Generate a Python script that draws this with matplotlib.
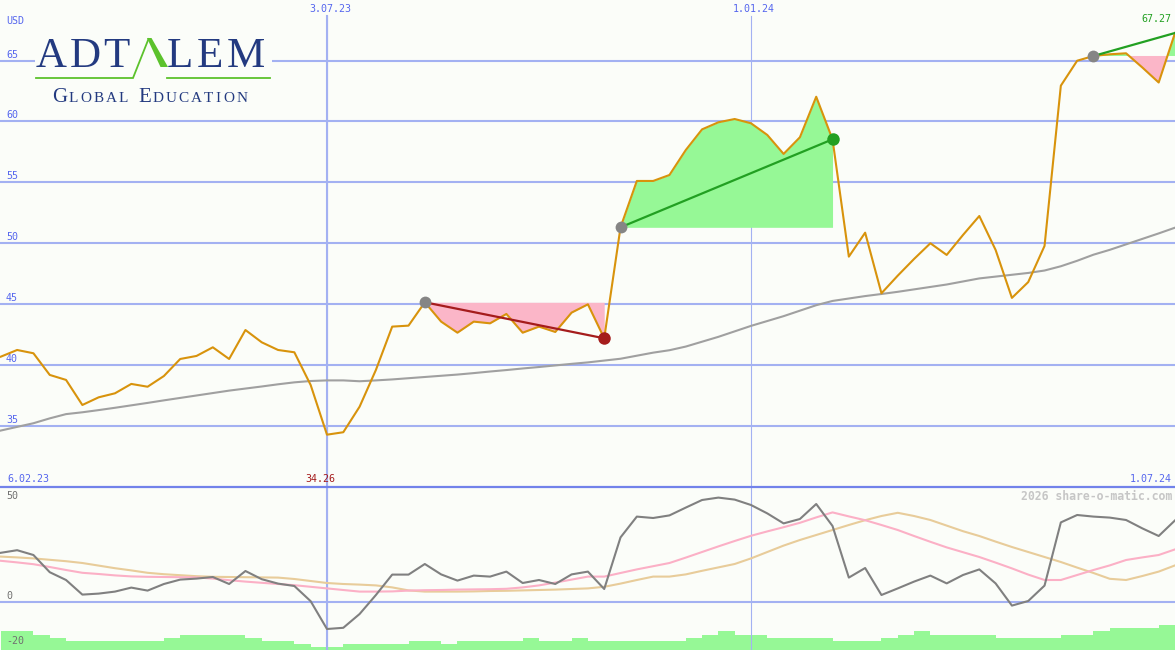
import matplotlib
matplotlib.use("Agg")
import matplotlib.pyplot as plt
import numpy as np

# weekly closes in USD (first point just after 6.02.23, last 1.07.24)
price = [40.67, 41.22, 40.95, 39.17, 38.76, 36.70, 37.33, 37.66, 38.43, 38.20,
         39.08, 40.48, 40.73, 41.44, 40.48, 42.86, 41.85, 41.22, 41.03, 38.34,
         34.26, 34.46, 36.56, 39.58, 43.14, 43.22, 45.14, 43.55, 42.64, 43.55,
         43.41, 44.18, 42.64, 43.14, 42.70, 44.29, 44.97, 42.18, 51.30, 55.11,
         55.11, 55.60, 57.65, 59.35, 59.93, 60.20, 59.85, 58.89, 57.33, 58.70,
         62.03, 58.53, 48.89, 50.86, 45.88, 47.33, 48.70, 49.99, 49.03, 50.67,
         52.23, 49.44, 45.50, 46.80, 49.77, 62.94, 64.99, 65.38, 65.52, 65.60,
         64.43, 63.20, 67.27]

# long moving average (grey)
ma_long = [34.6, 34.9, 35.2, 35.6, 35.95, 36.1, 36.28, 36.47, 36.67, 36.87,
           37.08, 37.28, 37.48, 37.68, 37.88, 38.05, 38.22, 38.4, 38.56, 38.67,
           38.72, 38.72, 38.65, 38.72, 38.8, 38.9, 39.0, 39.1, 39.2, 39.32,
           39.45, 39.57, 39.7, 39.82, 39.95, 40.08, 40.2, 40.35, 40.5, 40.75,
           41.0, 41.2, 41.5, 41.9, 42.3, 42.75, 43.2, 43.6, 44.0, 44.45,
           44.9, 45.25, 45.45, 45.65, 45.82, 46.0, 46.2, 46.4, 46.6, 46.85,
           47.1, 47.25, 47.4, 47.55, 47.75, 48.1, 48.55, 49.05, 49.45, 49.9,
           50.35, 50.8, 51.27]

# lower panel: oscillator and its two averages
osc = [24.6, 25.9, 23.5, 14.9, 11.0, 3.7, 4.2, 5.2, 7.2, 5.7,
       9.0, 11.2, 11.7, 12.5, 9.0, 15.5, 11.4, 9.2, 8.0, 0.4,
       -13.5, -12.9, -6.0, 3.5, 13.7, 13.7, 19.0, 13.8, 10.7, 13.2,
       12.7, 15.2, 9.5, 11.0, 9.0, 13.8, 15.2, 6.5, 32.3, 42.7,
       42.0, 43.3, 47.2, 51.0, 52.2, 51.2, 48.5, 44.3, 39.3, 41.5,
       49.0, 38.0, 12.2, 17.0, 3.5, 6.8, 10.2, 13.2, 9.3, 13.5,
       16.3, 9.3, -1.8, 0.5, 8.2, 39.8, 43.5, 42.7, 42.2, 41.0,
       36.8, 33.0, 40.8]
osc_fast = [20.6, 19.8, 18.9, 17.5, 16.0, 14.6, 14.0, 13.3, 12.8, 12.6,
            12.5, 12.4, 12.3, 11.7, 10.9, 10.2, 9.6, 9.0, 8.4, 7.6,
            6.8, 6.0, 5.2, 5.2, 5.3, 5.7, 5.9, 6.0, 6.2, 6.3,
            6.4, 6.6, 7.3, 8.3, 9.7, 11.2, 12.7, 12.7, 14.5, 16.3,
            17.9, 19.5, 22.2, 25.0, 27.8, 30.5, 33.1, 35.3, 37.4, 39.6,
            42.3, 44.8, 42.8, 40.9, 38.5, 36.0, 33.0, 30.1, 27.3, 24.9,
            22.5, 19.7, 16.8, 13.7, 11.0, 11.0, 13.5, 16.0, 18.3, 21.0,
            22.3, 23.5, 26.3]
osc_slow = [22.7, 22.3, 21.8, 21.1, 20.4, 19.5, 18.2, 16.9, 15.8, 14.6,
            13.9, 13.4, 12.9, 12.6, 12.5, 12.4, 12.3, 12.2, 11.5, 10.5,
            9.5, 9.0, 8.7, 8.3, 7.3, 5.8, 5.2, 5.2, 5.2, 5.3,
            5.5, 5.6, 5.8, 6.0, 6.2, 6.5, 6.8, 7.6, 9.2, 11.0,
            12.7, 12.7, 13.8, 15.6, 17.3, 19.0, 21.8, 25.0, 28.2, 31.0,
            33.5, 36.0, 38.5, 40.9, 43.0, 44.6, 43.0, 41.0, 38.2, 35.4,
            33.0, 30.2, 27.5, 25.0, 22.5, 20.0, 17.2, 14.5, 11.6, 11.0,
            13.0, 15.2, 18.3]
# volume, relative levels
volume = [6, 6, 5, 4, 3, 3, 3, 3, 3, 3,
          4, 5, 5, 5, 5, 4, 3, 3, 2, 1,
          1, 2, 2, 2, 2, 3, 3, 2, 3, 3,
          3, 3, 4, 3, 3, 4, 3, 3, 3, 3,
          3, 3, 4, 5, 6, 5, 5, 4, 4, 4,
          4, 3, 3, 3, 4, 5, 6, 5, 5, 5,
          5, 4, 4, 4, 4, 5, 5, 6, 7, 7,
          7, 8, 8]

price_ticks = [35, 40, 45, 50, 55, 60, 65]
osc_ticks = [50, 0, -20]
date_marks = [(20, "3.07.23"), (46, "1.01.24")]
first_date, last_date = "6.02.23", "1.07.24"
# signal windows (start index, end index)
windows = [(26, 37), (38, 51), (67, 72)]

BG = "#fbfdf9"
GRID = "#a3b1f2"
SEP = "#7282ea"
LBL = "#5566ee"
ORANGE = "#d8930c"
GREY = "#a0a0a0"
RED = "#a51c1c"
GREEN = "#22a022"
FILL_G = "#96f896"
FILL_R = "#fbb6c8"
MONO = "DejaVu Sans Mono"

n = len(price)
idx = np.arange(n)
p = np.array(price)

fig = plt.figure(figsize=(11.75, 6.5), dpi=100, facecolor=BG)
ax = fig.add_axes([0, 163 / 650, 1, 487 / 650])
ax2 = fig.add_axes([0, 0, 1, 163 / 650])
ax.set_zorder(2)
ax2.set_zorder(1)
for a in (ax, ax2):
    a.set_facecolor(BG)
    a.set_xlim(-0.05, 72.0)
    a.set_xticks([])
    a.set_yticks([])
    for s in a.spines.values():
        s.set_visible(False)
ax.set_ylim(29.96, 69.98)
ax2.set_ylim(-24, 57.5)
ax.spines["bottom"].set_visible(True)
ax.spines["bottom"].set_color(SEP)
ax.spines["bottom"].set_linewidth(1.6)

# grid
for v in price_ticks:
    ax.axhline(v, color=GRID, lw=1.5, zorder=1)
    ax.annotate(str(v), xy=(0, v), xycoords=("axes fraction", "data"),
                xytext=(4.3, 4.3), textcoords="offset points",
                ha="left", va="center", fontsize=7.2, family=MONO, color=LBL)
ax.annotate("USD", xy=(0, 1), xycoords="axes fraction", xytext=(4.3, -15),
            textcoords="offset points", ha="left", va="center",
            fontsize=7.2, family=MONO, color=LBL)
ax2.axhline(0, color=GRID, lw=1.5, zorder=1)
for v, off in zip(osc_ticks, [4.3, 4.3, 0.5]):
    ax2.annotate(str(v), xy=(0, v), xycoords=("axes fraction", "data"),
                 xytext=(4.3, off), textcoords="offset points",
                 ha="left", va="center", fontsize=7.2, family=MONO, color="#707070")

top_frac = 1 - 16 / 487
for i, lab in date_marks:
    ax.axvline(i, ymax=top_frac, color=GRID, lw=0.8, zorder=1)
    ax2.axvline(i, color=GRID, lw=0.8, zorder=1)
    ax.annotate(lab, xy=(i, 1), xycoords=("data", "axes fraction"),
                xytext=(2.2, -6.5), textcoords="offset points",
                ha="center", va="center", fontsize=7.2, family=MONO, color=LBL)

low_i = int(np.argmin(p))
ax.axvline(low_i, ymax=top_frac, color=GRID, lw=1.5, zorder=1)
ax2.axvline(low_i, color=GRID, lw=1.5, zorder=1)
ax.annotate(f"{p[low_i]:.2f}", xy=(low_i, 0), xycoords=("data", "axes fraction"),
            xytext=(-5, 5.8), textcoords="offset points",
            ha="center", va="center", fontsize=7.2, family=MONO, color=RED)
ax.annotate(first_date, xy=(0, 0), xycoords="axes fraction", xytext=(5, 5.8),
            textcoords="offset points", ha="left", va="center",
            fontsize=7.2, family=MONO, color=LBL)
ax.annotate(last_date, xy=(1, 0), xycoords="axes fraction", xytext=(-2.2, 5.8),
            textcoords="offset points", ha="right", va="center",
            fontsize=7.2, family=MONO, color=LBL)

# signal fills
for s, e in windows:
    xs = idx[s:e + 1]
    ys = p[s:e + 1]
    lvl = p[s]
    ax.fill_between(xs, ys, lvl, where=ys >= lvl, interpolate=True,
                    color=FILL_G, lw=0, zorder=2)
    ax.fill_between(xs, ys, lvl, where=ys <= lvl, interpolate=True,
                    color=FILL_R, lw=0, zorder=2)

ax.plot(idx, ma_long, color=GREY, lw=1.5, zorder=3)
ax.plot(idx, p, color=ORANGE, lw=1.5, zorder=4)

for s, e in windows:
    c = GREEN if p[e] >= p[s] else RED
    ax.plot([s, e], [p[s], p[e]], color=c, lw=1.6, zorder=5)
    ax.plot(s, p[s], "o", ms=8.5, color="#858585", mec="none", zorder=6)
    if e < n - 1:
        ax.plot(e, p[e], "o", ms=9, color=c, mec="none", zorder=6)

s, e = windows[-1]
ax.annotate(f"{p[-1]:.2f}", xy=(1, p[-1]), xycoords=("axes fraction", "data"),
            xytext=(-2.5, 10), textcoords="offset points", ha="right", va="center",
            fontsize=7.2, family=MONO, color=GREEN if p[e] >= p[s] else RED)

# lower panel
ax2.bar(idx, np.array(volume) * 1.55, width=1.0, align="edge", bottom=-24,
        color=FILL_G, lw=0, zorder=0.5)
ax2.plot(idx, osc_slow, color="#e8cc9a", lw=1.5, zorder=3)
ax2.plot(idx, osc_fast, color="#fbb0c6", lw=1.5, zorder=3)
ax2.plot(idx, osc, color="#808080", lw=1.5, zorder=4)
ax2.annotate("2026 share-o-matic.com", xy=(1, 1), xycoords="axes fraction",
             xytext=(-2.2, -6.5), textcoords="offset points", ha="right", va="center",
             fontsize=8.3, family=MONO, weight="bold", color="#c6c6c6")

# logo overlay, pixel coordinates
lg = fig.add_axes([0, 0, 1, 1], zorder=10)
lg.set_xlim(0, 1175)
lg.set_ylim(650, 0)
lg.axis("off")
lg.patch.set_visible(False)
NAVY = "#233a80"
LGREEN = "#5cc22c"
lg.add_patch(plt.Rectangle((35, 28), 237, 84, color=BG, lw=0, zorder=1))
rend = fig.canvas.get_renderer()


def spaced(x, y, text, size, track):
    for ch in text:
        t = lg.text(x, y, ch, fontsize=size, family="Liberation Serif",
                    color=NAVY, ha="left", va="baseline", zorder=3)
        x += t.get_window_extent(renderer=rend).width + track
    return x


spaced(36, 67, "ADT", 31, 2.5)
spaced(167, 67, "LEM", 31, 3.5)
lg.plot([36, 133, 148.5], [78, 78, 39], color=LGREEN, lw=1.3, zorder=2,
        solid_joinstyle="miter")
lg.plot([167, 270], [78, 78], color=LGREEN, lw=1.3, zorder=2)
lg.add_patch(plt.Polygon([(147, 38), (151.5, 38), (168, 67), (160.5, 67)],
                         color=LGREEN, lw=0, zorder=2))
x = spaced(52, 102, "G", 15, 1.5)
spaced(x, 102, "LOBAL", 11, 2.2)
x = spaced(138, 102, "E", 15, 1.5)
spaced(x, 102, "DUCATION", 11, 2.2)

fig.savefig("out.png", dpi=100, facecolor=BG)
